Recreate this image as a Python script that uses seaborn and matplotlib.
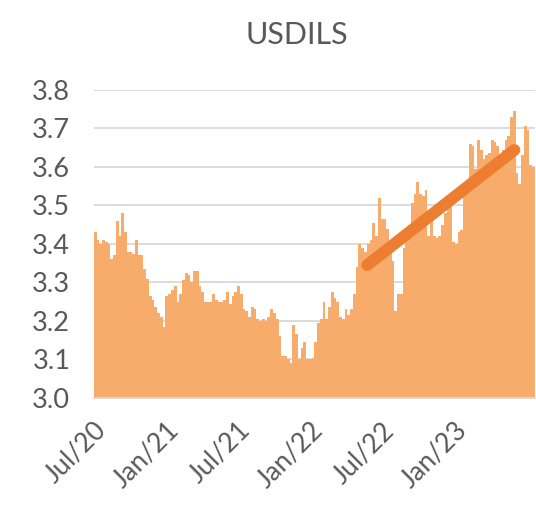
import pandas as pd
import numpy as np
import matplotlib
matplotlib.use('Agg')
import matplotlib.pyplot as plt
import matplotlib.dates as mdates
import matplotlib.ticker as mticker
import seaborn as sns

# weekly USD/ILS closes
rate_jul20_jan22 = [
    3.43, 3.41, 3.40, 3.41, 3.405, 3.40, 3.36, 3.37, 3.46, 3.42,
    3.48, 3.43, 3.38, 3.38, 3.375, 3.41, 3.37, 3.37, 3.335, 3.31,
    3.265, 3.255, 3.235, 3.22, 3.21, 3.185, 3.265, 3.27, 3.28, 3.29,
    3.25, 3.27, 3.305, 3.325, 3.32, 3.30, 3.33, 3.33, 3.29, 3.275,
    3.25, 3.25, 3.25, 3.27, 3.255, 3.25, 3.25, 3.255, 3.275, 3.245,
    3.265, 3.275, 3.29, 3.27, 3.23, 3.225, 3.21, 3.235, 3.23, 3.205,
    3.20, 3.205, 3.20, 3.21, 3.23, 3.22, 3.205, 3.16, 3.11, 3.11,
    3.10, 3.09, 3.19, 3.165, 3.10, 3.13, 3.145, 3.10, 3.10, 3.105,
    3.145, 3.195,
]
rate_jan22_jul23 = [
    3.205, 3.25, 3.205, 3.235, 3.275, 3.26, 3.25, 3.21, 3.205, 3.23,
    3.215, 3.23, 3.27, 3.34, 3.40, 3.39, 3.38, 3.40, 3.41, 3.455,
    3.42, 3.52, 3.465, 3.465, 3.44, 3.40, 3.355, 3.225, 3.27, 3.27,
    3.39, 3.42, 3.45, 3.505, 3.53, 3.56, 3.53, 3.525, 3.54, 3.42,
    3.47, 3.42, 3.415, 3.42, 3.45, 3.48, 3.50, 3.50, 3.405, 3.40,
    3.43, 3.435, 3.53, 3.55, 3.66, 3.655, 3.595, 3.67, 3.645, 3.62,
    3.63, 3.635, 3.67, 3.665, 3.655, 3.62, 3.645, 3.67, 3.68, 3.73,
    3.745, 3.585, 3.555, 3.63, 3.705, 3.695, 3.605, 3.60,
]
start_date = '2020-07-01'

trend_dates = pd.to_datetime(['2022-05-26', '2023-06-04'])
trend_values = [3.345, 3.644]

tick_dates = pd.to_datetime(['2020-07-01', '2021-01-01', '2021-07-01',
                             '2022-01-01', '2022-07-01', '2023-01-01'])
y_ticks = [3.0, 3.1, 3.2, 3.3, 3.4, 3.5, 3.6, 3.7, 3.8]

rates = rate_jul20_jan22 + rate_jan22_jul23
dates = pd.date_range(start_date, periods=len(rates), freq='7D')
df = pd.DataFrame({'date': dates, 'rate': rates})

sns.set_theme(style='whitegrid')
plt.rcParams['font.family'] = ['Lato', 'DejaVu Sans']
TXT = '#595959'
AREA = '#F7AC6C'
LINE = '#ED7D31'

fig = plt.figure(figsize=(5.36, 5.05), dpi=100)
ax = fig.add_axes([0.175, 0.212, 0.823, 0.61])

# step area, extended one week so the last bar has width
x_ext = list(df['date']) + [df['date'].iloc[-1] + pd.Timedelta(days=7)]
y_ext = list(df['rate']) + [df['rate'].iloc[-1]]
ax.fill_between(x_ext, y_ext, 0, step='post', color=AREA, linewidth=0, zorder=2)

sns.lineplot(x=trend_dates, y=trend_values, ax=ax, color=LINE, linewidth=8.5,
             solid_capstyle='round', zorder=3)

ax.set_ylim(3.0, 3.8)
ax.set_xlim(x_ext[0], x_ext[-1])
ax.set_yticks(y_ticks)
ax.yaxis.set_major_formatter(mticker.FormatStrFormatter('%.1f'))
ax.set_xticks(tick_dates)
ax.xaxis.set_major_formatter(mdates.DateFormatter('%b/%y'))
ax.grid(axis='x', visible=False)
ax.grid(axis='y', color='#D9D9D9', linewidth=1.3)
ax.set_axisbelow(True)
for s in ['top', 'right', 'left']:
    ax.spines[s].set_visible(False)
ax.spines['bottom'].set_color('#D9D9D9')
ax.spines['bottom'].set_linewidth(1.3)
ax.spines['bottom'].set_zorder(4)
ax.tick_params(axis='y', labelsize=19.5, colors=TXT, pad=17, length=0)
ax.tick_params(axis='x', labelsize=19, colors=TXT, pad=14, length=0)
for lbl in ax.get_xticklabels():
    lbl.set_rotation(45)
    lbl.set_ha('right')
    lbl.set_rotation_mode('anchor')
ax.set_xlabel('')
ax.set_ylabel('')
ax.set_facecolor('white')

fig.text(0.554, 0.931, 'USDILS', ha='center', va='center', fontsize=22, color=TXT)

plt.savefig('out.png', dpi=100)
plt.close()
